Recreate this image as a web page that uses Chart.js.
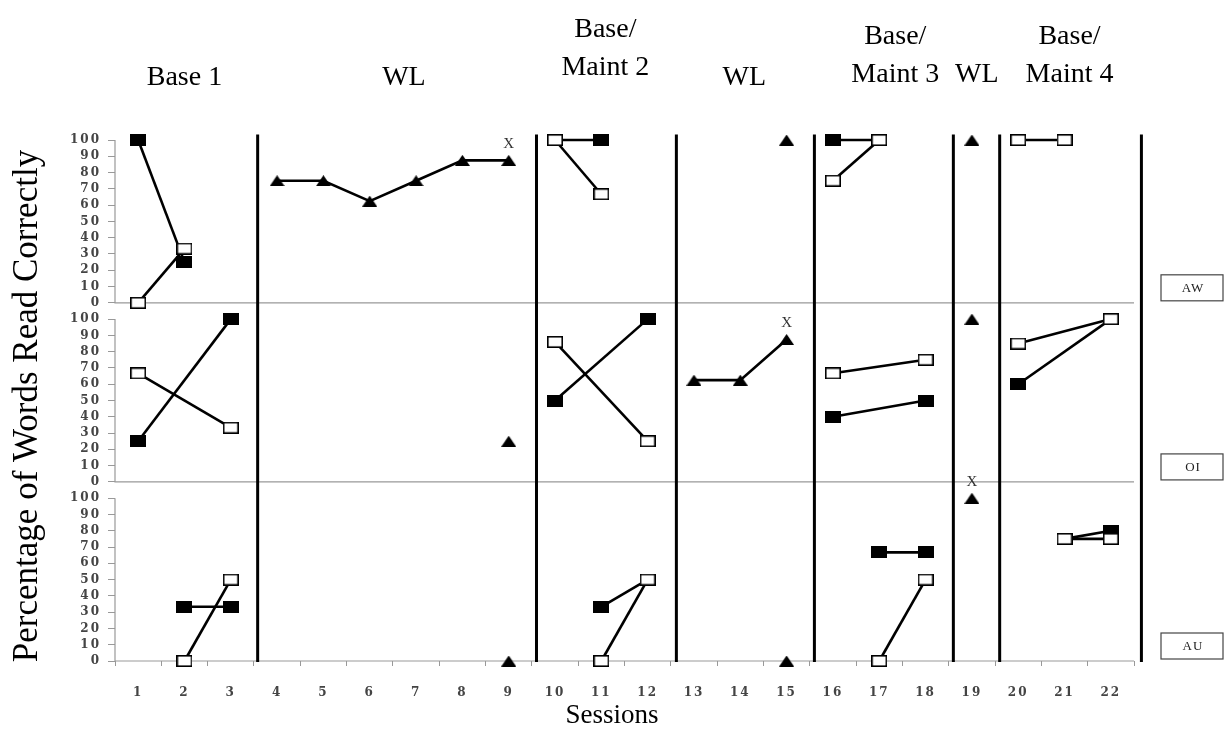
<!DOCTYPE html>
<html>
<head>
<meta charset="utf-8">
<title>Percentage of Words Read Correctly</title>
<script src="https://cdn.jsdelivr.net/npm/chart.js@4.4.1/dist/chart.umd.min.js"></script>
<style>
  html, body { margin: 0; padding: 0; background: #fff; }
  #wrap { position: relative; width: 1229px; height: 740px; }
</style>
</head>
<body>
<div id="wrap"><canvas id="chart" width="1229" height="740"></canvas></div>
<script>
// Sessions and phases
const sessions = ['1', '2', '3', '4', '5', '6', '7', '8', '9', '10', '11',
  '12', '13', '14', '15', '16', '17', '18', '19', '20', '21', '22'];
const phaseStarts = [1, 4, 10, 13, 16, 19, 20];
const phaseNames = ['Base 1', 'WL', 'Base/\nMaint 2', 'WL', 'Base/\nMaint 3', 'WL', 'Base/\nMaint 4'];
// phase change lines, in session units
const phaseLines = [3.58, 9.6, 12.62, 15.6, 18.6, 19.6, 22.66];
const yTicks = [0, 10, 20, 30, 40, 50, 60, 70, 80, 90, 100];

// AW (one value per session, null = not measured)
const awFilled = [100, 25, null, null, null, null, null, null, null, 100, 100, null, null, null, null, 100, 100, null, null, null, null, null];
const awOpen   = [0, 33.3, null, null, null, null, null, null, null, 100, 66.7, null, null, null, null, 75, 100, null, null, 100, 100, null];
const awProbe  = [null, null, null, 75, 75, 62.5, 75, 87.5, 87.5, null, null, null, null, null, 100, null, null, null, 100, null, null, null];
const awMarked = [9];

// OI
const oiFilled = [25, null, 100, null, null, null, null, null, null, 50, null, 100, null, null, null, 40, null, 50, null, 60, null, 100];
const oiOpen   = [66.7, null, 33.3, null, null, null, null, null, null, 86, null, 25, null, null, null, 66.7, null, 75, null, 85, null, 100];
const oiProbe  = [null, null, null, null, null, null, null, null, 25, null, null, null, 62.5, 62.5, 87.5, null, null, null, 100, null, null, null];
const oiMarked = [15];

// AU
const auFilled = [null, 33.3, 33.3, null, null, null, null, null, null, null, 33.3, 50, null, null, null, null, 66.7, 66.7, null, null, 75, 80];
const auOpen   = [null, 0, 50, null, null, null, null, null, null, null, 0, 50, null, null, null, null, 0, 50, null, null, 75, 75];
const auProbe  = [null, null, null, null, null, null, null, null, 0, null, null, null, null, null, 0, null, null, null, 100, null, null, null];
const auMarked = [19];

const panels = [
  { id: 'AW', filled: awFilled, open: awOpen, probe: awProbe, marked: awMarked },
  { id: 'OI', filled: oiFilled, open: oiOpen, probe: oiProbe, marked: oiMarked },
  { id: 'AU', filled: auFilled, open: auOpen, probe: auProbe, marked: auMarked }
];

// marker images
function marker(w, h, paint) {
  const c = document.createElement('canvas');
  c.width = w; c.height = h;
  paint(c.getContext('2d'), w, h);
  return c;
}
const filledSquare = marker(16, 12, (g, w, h) => { g.fillStyle = '#000'; g.fillRect(0, 0, w, h); });
const openSquare = marker(16, 12, (g, w, h) => {
  g.fillStyle = '#fff'; g.fillRect(0, 0, w, h);
  g.strokeStyle = '#000'; g.lineWidth = 1.6; g.strokeRect(0.8, 0.8, w - 1.6, h - 1.6);
});
const triangle = marker(15, 11, (g, w, h) => {
  g.fillStyle = '#000'; g.beginPath();
  g.moveTo(w / 2, 0); g.lineTo(w, h); g.lineTo(0, h); g.closePath(); g.fill();
});

function phaseOf(s) {
  let p = 0;
  phaseStarts.forEach((start, i) => { if (s >= start) p = i; });
  return p;
}

// split a series into one connected run per phase
function runs(values) {
  const groups = [];
  values.forEach((v, i) => {
    if (v === null) return;
    const p = phaseOf(i + 1);
    (groups[p] = groups[p] || []).push({ x: sessions[i], y: v });
  });
  return groups.filter(Boolean);
}

const datasets = [];
[['open', openSquare], ['filled', filledSquare], ['probe', triangle]].forEach(([key, style]) => {
  panels.forEach(panel => {
    runs(panel[key]).forEach(data => {
      datasets.push({
        label: panel.id + ' ' + key,
        data,
        yAxisID: 'y' + panel.id,
        showLine: true,
        borderColor: '#000',
        borderWidth: 2.6,
        pointStyle: style,
        pointRadius: 7,
        clip: false
      });
    });
  });
});

const tickFont = { family: '"DejaVu Serif", serif', size: 12, weight: 'bold' };

function panelAxis(min, max) {
  return {
    type: 'linear',
    position: 'left',
    stack: 'panels',
    stackWeight: max - min,
    min, max,
    afterBuildTicks: s => { s.ticks = yTicks.map(v => ({ value: v })); },
    afterFit: s => { s.width = 60; },
    grid: { drawOnChartArea: false, color: '#999', tickLength: 7 },
    border: { display: false },
    ticks: { font: tickFont, color: '#444', padding: 7, autoSkip: false }
  };
}

const headingLayout = [
  { dx: 0, y: 78 }, { dx: 11, y: 78 }, { dx: 4, y: 68 }, { dx: 4, y: 78 },
  { dx: 16, y: 75 }, { dx: 5, y: 75 }, { dx: 5, y: 75 }
];

const framePlugin = {
  id: 'frame',
  beforeDraw(chart) {
    chart.ctx.letterSpacing = '2px';
  },
  beforeDatasetsDraw(chart) {
    const { ctx, chartArea, scales } = chart;
    ctx.save();
    ctx.letterSpacing = '0px';
    // panel axes
    ctx.strokeStyle = '#999';
    ctx.lineWidth = 1.2;
    panels.forEach(panel => {
      const y = scales['y' + panel.id];
      const y0 = y.getPixelForValue(0), y100 = y.getPixelForValue(100);
      ctx.beginPath();
      ctx.moveTo(chartArea.left, y100);
      ctx.lineTo(chartArea.left, y0);
      ctx.lineTo(chartArea.right, y0);
      ctx.stroke();
    });
    // phase change lines
    ctx.strokeStyle = '#000';
    ctx.lineWidth = 3;
    phaseLines.forEach(v => {
      const x = scales.x.getPixelForValue(v - 1);
      ctx.beginPath();
      ctx.moveTo(x, chartArea.top + 1);
      ctx.lineTo(x, chartArea.bottom + 1);
      ctx.stroke();
    });
    ctx.restore();
    ctx.letterSpacing = '0px';
  },
  afterDraw(chart) {
    const { ctx, chartArea, scales } = chart;
    ctx.save();
    ctx.letterSpacing = '0px';
    ctx.fillStyle = '#000';
    ctx.textAlign = 'center';
    ctx.textBaseline = 'middle';

    // phase headings
    ctx.font = '28px "Liberation Serif", serif';
    phaseNames.forEach((name, i) => {
      const first = phaseStarts[i];
      const last = i + 1 < phaseStarts.length ? phaseStarts[i + 1] - 1 : sessions.length;
      const x = (scales.x.getPixelForValue(first - 1) + scales.x.getPixelForValue(last - 1)) / 2 + headingLayout[i].dx;
      const lines = name.split('\n');
      lines.forEach((line, k) => {
        ctx.fillText(line, x, headingLayout[i].y - (lines.length - 1 - k) * 38);
      });
    });

    // probe sessions marked with an X
    ctx.font = '15px "Liberation Serif", serif';
    ctx.fillStyle = '#333';
    panels.forEach(panel => {
      const y = scales['y' + panel.id];
      panel.marked.forEach(s => {
        const v = panel.probe[s - 1];
        ctx.fillText('X', scales.x.getPixelForValue(s - 1), y.getPixelForValue(v) - 16);
      });
    });

    // student boxes
    ctx.font = '13px "Liberation Serif", serif';
    ctx.letterSpacing = '1px';
    panels.forEach(panel => {
      const y0 = scales['y' + panel.id].getPixelForValue(0);
      const left = chartArea.right + 27, w = 62, h = 26, top = y0 - h - 2;
      ctx.fillStyle = '#fff';
      ctx.fillRect(left, top, w, h);
      ctx.strokeStyle = '#444';
      ctx.lineWidth = 1.2;
      ctx.strokeRect(left, top, w, h);
      ctx.fillStyle = '#222';
      ctx.fillText(panel.id, left + w / 2 + 1, top + h / 2 + 1);
    });
    ctx.letterSpacing = '0px';

    // axis titles
    ctx.fillStyle = '#000';
    ctx.font = '27px "Liberation Serif", serif';
    ctx.fillText('Sessions', 612, 716);
    ctx.save();
    ctx.translate(28, 406);
    ctx.rotate(-Math.PI / 2);
    ctx.font = '35px "Liberation Serif", serif';
    ctx.fillText('Percentage of Words Read Correctly', 0, 0);
    ctx.restore();
    ctx.restore();
  }
};

new Chart(document.getElementById('chart'), {
  type: 'line',
  data: { labels: sessions, datasets },
  options: {
    responsive: false,
    animation: false,
    events: [],
    layout: { padding: { top: 133.5, left: 55, right: 95, bottom: 43 } },
    plugins: { legend: { display: false }, tooltip: { enabled: false } },
    scales: {
      x: {
        type: 'category',
        labels: sessions,
        offset: true,
        grid: { offset: true, drawOnChartArea: false, color: '#999', tickLength: 5 },
        border: { display: false },
        ticks: { font: tickFont, color: '#444', padding: 20, maxRotation: 0, autoSkip: false },
        afterFit: s => { s.height = 36; }
      },
      yAU: panelAxis(0, 105),
      yOI: panelAxis(-5, 105),
      yAW: panelAxis(-5, 104)
    }
  },
  plugins: [framePlugin]
});
</script>
</body>
</html>
